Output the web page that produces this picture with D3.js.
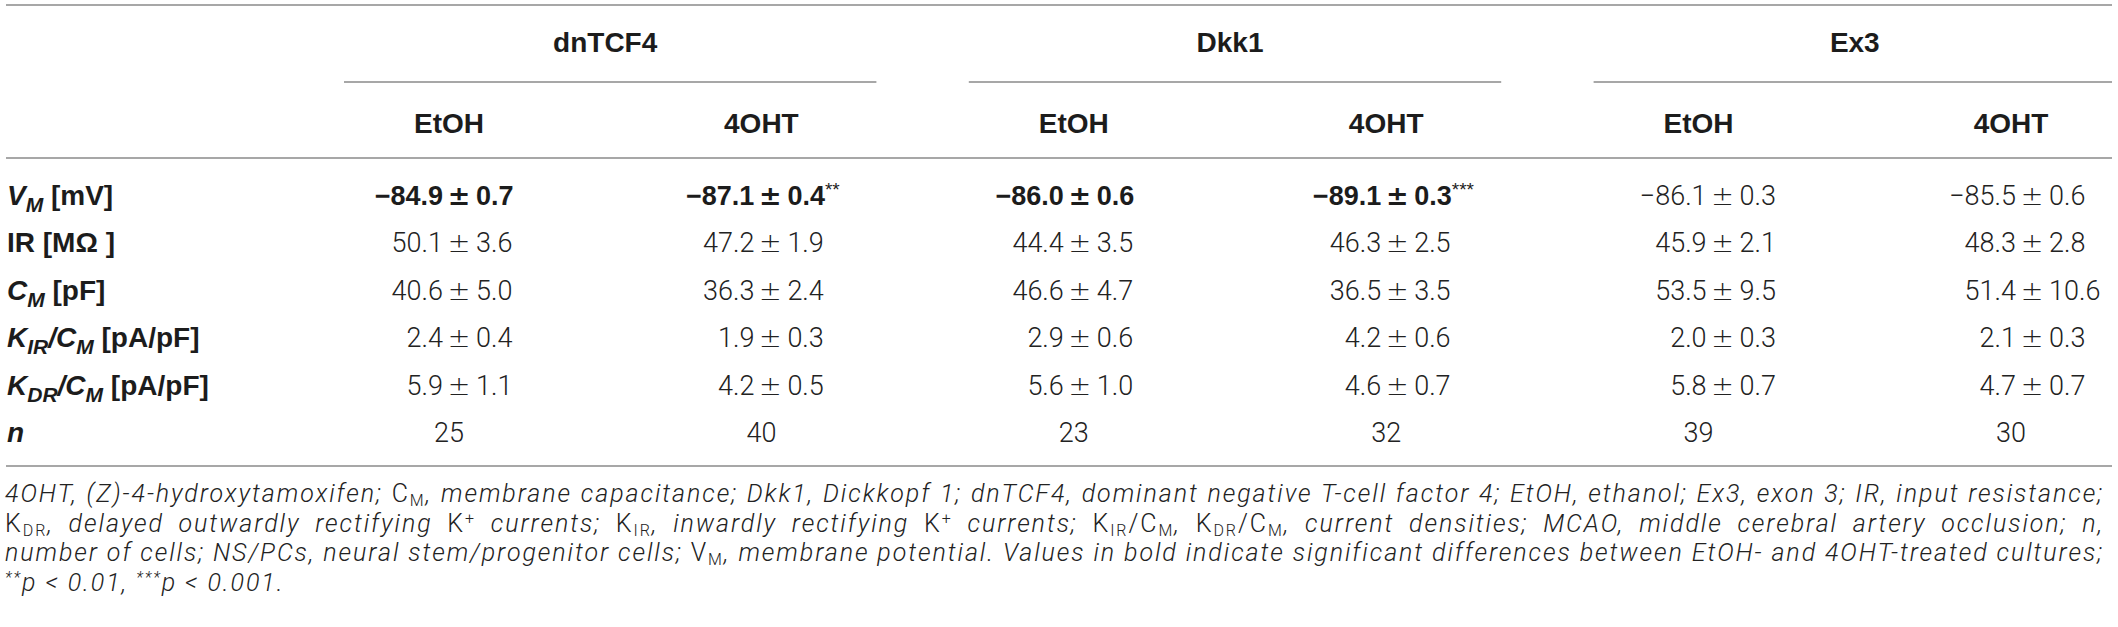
<!DOCTYPE html>
<html>
<head>
<meta charset="utf-8">
<style>
  body { margin: 0; background: #fff; }
  svg { display: block; }
  .head { font-family: 'Liberation Sans', Arial, sans-serif; font-weight: 700; font-size: 28px; fill: #1c1c1c; }
  .val { font-family: Roboto, 'Liberation Sans', sans-serif; font-weight: 300; font-size: 27px; fill: #222; }
  .val.bold { font-family: 'Liberation Sans', Arial, sans-serif; font-weight: 700; fill: #1c1c1c; }
  .pm { font-family: 'DejaVu Sans', sans-serif; }
  .note { font-family: Roboto, 'Liberation Sans', sans-serif; font-style: italic; font-weight: 300; font-size: 25px; fill: #222; }
  .rule { stroke: #8a8a8a; stroke-width: 1.6; }
</style>
</head>
<body>
<svg width="2118" height="627"></svg>

<script src="https://d3js.org/d3.v7.min.js"></script>
<script>
    // ---- data ----
    const groups = ["dnTCF4", "Dkk1", "Ex3"];
    const treatments = ["EtOH", "4OHT"];
    const rowKeys = ["VM", "IR", "CM", "KIR", "KDR", "n"];

    const vmMean = [-84.9, -87.1, -86.0, -89.1, -86.1, -85.5];
    const vmSem = [0.7, 0.4, 0.6, 0.3, 0.3, 0.6];
    const vmBold = [true, true, true, true, false, false];
    const vmStars = ["", "**", "", "***", "", ""];
    const irMean = [50.1, 47.2, 44.4, 46.3, 45.9, 48.3];
    const irSem = [3.6, 1.9, 3.5, 2.5, 2.1, 2.8];
    const cmMean = [40.6, 36.3, 46.6, 36.5, 53.5, 51.4];
    const cmSem = [5.0, 2.4, 4.7, 3.5, 9.5, 10.6];
    const kirMean = [2.4, 1.9, 2.9, 4.2, 2.0, 2.1];
    const kirSem = [0.4, 0.3, 0.6, 0.6, 0.3, 0.3];
    const kdrMean = [5.9, 4.2, 5.6, 4.6, 5.8, 4.7];
    const kdrSem = [1.1, 0.5, 1.0, 0.7, 0.7, 0.7];
    const nCells = [25, 40, 23, 32, 39, 30];

    // row labels: i = italic, sub = subscript
    const rowLabels = [
        [{ t: "V", i: 1 }, { t: "M", i: 1, sub: 1 }, { t: " [mV]" }],
        [{ t: "IR [MΩ ]" }],
        [{ t: "C", i: 1 }, { t: "M", i: 1, sub: 1 }, { t: " [pF]" }],
        [{ t: "K", i: 1 }, { t: "IR", i: 1, sub: 1 }, { t: "/", i: 1 }, { t: "C", i: 1 }, { t: "M", i: 1, sub: 1 }, { t: " [pA/pF]" }],
        [{ t: "K", i: 1 }, { t: "DR", i: 1, sub: 1 }, { t: "/", i: 1 }, { t: "C", i: 1 }, { t: "M", i: 1, sub: 1 }, { t: " [pA/pF]" }],
        [{ t: "n", i: 1 }]
    ];

    // footnote lines: up = upright, sub / sup
    const noteLines = [
        [{ t: "4OHT, (Z)-4-hydroxytamoxifen; " }, { t: "C", up: 1 }, { t: "M", up: 1, sub: 1 },
         { t: ", membrane capacitance; Dkk1, Dickkopf 1; dnTCF4, dominant negative T-cell factor 4; EtOH, ethanol; Ex3, exon 3; IR, input resistance;" }],
        [{ t: "K", up: 1 }, { t: "DR", up: 1, sub: 1 }, { t: ", delayed outwardly rectifying " }, { t: "K", up: 1 }, { t: "+", up: 1, sup: 1 },
         { t: " currents; " }, { t: "K", up: 1 }, { t: "IR", up: 1, sub: 1 }, { t: ", inwardly rectifying " }, { t: "K", up: 1 }, { t: "+", up: 1, sup: 1 },
         { t: " currents; " }, { t: "K", up: 1 }, { t: "IR", up: 1, sub: 1 }, { t: "/", up: 1 }, { t: "C", up: 1 }, { t: "M", up: 1, sub: 1 }, { t: ", " },
         { t: "K", up: 1 }, { t: "DR", up: 1, sub: 1 }, { t: "/", up: 1 }, { t: "C", up: 1 }, { t: "M", up: 1, sub: 1 },
         { t: ", current densities; MCAO, middle cerebral artery occlusion; n," }],
        [{ t: "number of cells; NS/PCs, neural stem/progenitor cells; " }, { t: "V", up: 1 }, { t: "M", up: 1, sub: 1 },
         { t: ", membrane potential. Values in bold indicate significant differences between EtOH- and 4OHT-treated cultures;" }],
        [{ t: "**", sup: 1 }, { t: "p < 0.01, " }, { t: "***", sup: 1 }, { t: "p < 0.001." }]
    ];

    const rowMeans = [vmMean, irMean, cmMean, kirMean, kdrMean];
    const rowSems = [vmSem, irSem, cmSem, kirSem, kdrSem];

    // ---- layout ----
    const left = 6, right = 2112;
    const noteLeft = 5, noteRight = 2104;
    const colKeys = groups.flatMap(g => treatments.map(t => g + "|" + t));
    const pmShift = [10, 9, 6, 11, 24, 21]; // where the ± sits relative to column centre

    let svg = d3.select("svg");

    let x = d3.scalePoint().domain(colKeys).range([449, 2011]);
    let y = d3.scalePoint().domain(rowKeys).range([195, 432]);

    let fmt = d3.format(".1f");

    function addParts(textSel, parts, subSize, subDy, supDy) {
        let shift = 0;
        parts.forEach(p => {
            let ts = textSel.append("tspan").text(p.t);
            let target = p.sub ? subDy : p.sup ? supDy : 0;
            if (target - shift !== 0) ts.attr("dy", target - shift);
            shift = target;
            if (p.sub || p.sup) ts.attr("font-size", subSize);
            if (p.i) ts.attr("font-style", "italic");
            if (p.up) ts.attr("font-style", "normal");
        });
    }

    // rules
    [5, 158, 466].forEach(yy => {
        svg.append("line").attr("class", "rule")
            .attr("x1", left).attr("x2", right).attr("y1", yy).attr("y2", yy);
    });

    groups.forEach(g => {
        let x0 = x(g + "|" + treatments[0]);
        let x1 = x(g + "|" + treatments[1]);
        svg.append("line").attr("class", "rule")
            .attr("x1", x0 - 105).attr("x2", Math.min(x1 + 115, right))
            .attr("y1", 82).attr("y2", 82);
        svg.append("text").attr("class", "head")
            .attr("x", (x0 + x1) / 2).attr("y", 52)
            .attr("text-anchor", "middle").text(g);
    });

    // treatment headers
    svg.selectAll(".treat")
        .data(colKeys)
        .join("text")
        .attr("class", "head treat")
        .attr("x", d => x(d)).attr("y", 133)
        .attr("text-anchor", "middle")
        .text(d => d.split("|")[1]);

    // row labels
    rowKeys.forEach((k, i) => {
        let t = svg.append("text").attr("class", "head")
            .attr("x", 7).attr("y", y(k) + 10);
        addParts(t, rowLabels[i], 21, 7, -10);
    });

    // mean ± sem cells, one text per cell, lined up on the ±
    rowMeans.forEach((means, r) => {
        let k = rowKeys[r];
        means.forEach((m, c) => {
            let bold = r === 0 && vmBold[c];
            let px = x(colKeys[c]) + pmShift[c];
            let cell = svg.append("text")
                .attr("class", "val" + (bold ? " bold" : ""))
                .attr("y", y(k) + 10);
            cell.append("tspan").attr("x", px - 16).attr("text-anchor", "end").text(fmt(m));
            cell.append("tspan").attr("class", "pm").attr("x", px).attr("text-anchor", "middle").text("±");
            cell.append("tspan").attr("x", px + 17).attr("text-anchor", "start").text(fmt(rowSems[r][c]));
            if (r === 0 && vmStars[c]) {
                cell.append("tspan").attr("dy", -9).attr("font-size", 19)
                    .attr("font-weight", 400).text(vmStars[c]);
            }
        });
    });

    // n row
    svg.selectAll(".ncell")
        .data(nCells)
        .join("text")
        .attr("class", "val ncell")
        .attr("x", (d, i) => x(colKeys[i]))
        .attr("y", y("n") + 10)
        .attr("text-anchor", "middle")
        .text(d => d);

    // footnote: letter-spacing so the tightest line (3rd) fills, word-spacing justifies lines 1-2
    let notes = noteLines.map((parts, i) => {
        let t = svg.append("text").attr("class", "note")
            .attr("x", noteLeft).attr("y", 502 + i * 29.6);
        addParts(t, parts, 16, 4, -8);
        return t;
    });
    let span = noteRight - noteLeft;
    let chars3 = noteLines[2].map(p => p.t).join("").length;
    let ls = (span - notes[2].node().getComputedTextLength()) / chars3;
    notes.forEach((t, i) => {
        t.attr("letter-spacing", ls);
        if (i < notes.length - 1) {
            let w = t.node().getComputedTextLength();
            let spaces = noteLines[i].map(p => p.t).join("").split(" ").length - 1;
            t.attr("word-spacing", (span - w) / spaces);
        }
    });
</script>
</body>
</html>
